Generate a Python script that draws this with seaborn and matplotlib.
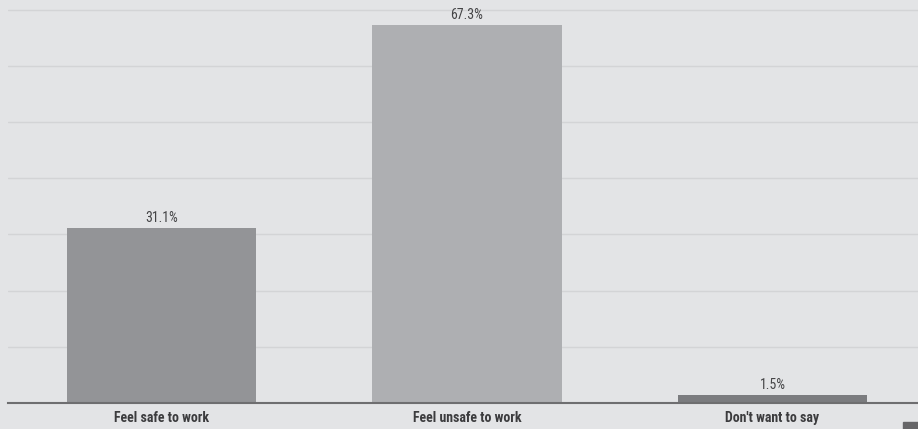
import matplotlib
matplotlib.use("Agg")
import matplotlib.pyplot as plt
import seaborn as sns
import pandas as pd

categories = ["Feel safe to work", "Feel unsafe to work", "Don't want to say"]
values = [31.1, 67.3, 1.5]
labels = ["31.1%", "67.3%", "1.5%"]
bar_colors = ["#939497", "#aeafb2", "#7b7c7f"]

sns.set_style("white")
plt.rcParams['font.family'] = ['Roboto Condensed', 'Liberation Sans Narrow', 'Roboto', 'DejaVu Sans']

bg = "#e3e4e6"
fig = plt.figure(figsize=(9.18, 4.29), dpi=100, facecolor=bg)
# axes placed in pixel terms: left 8px, baseline at 403px from top
ax = fig.add_axes([8 / 918, (429 - 403) / 429, 910 / 918, 403 / 429])
ax.set_facecolor(bg)

data = pd.DataFrame({"category": categories, "value": values})
sns.barplot(data=data, x="category", y="value", hue="category",
            palette=bar_colors, width=0.62, saturation=1, legend=False,
            linewidth=0, ax=ax)

ax.set_ylim(0, 71.7)
ax.set_xlim(-0.502, 2.476)
ax.set_yticks(range(0, 80, 10))
ax.yaxis.grid(True, color="#d3d4d6", linewidth=1)
ax.set_axisbelow(True)
ax.tick_params(axis="y", left=False, labelleft=False)
ax.tick_params(axis="x", bottom=False, pad=2)
for lbl in ax.get_xticklabels():
    lbl.set_fontweight("bold")
    lbl.set_fontsize(10)
    lbl.set_color("#3c3c3e")
ax.set_xlabel("")
ax.set_ylabel("")
for side in ["top", "right", "left"]:
    ax.spines[side].set_visible(False)
ax.spines["bottom"].set_color("#6e6e70")
ax.spines["bottom"].set_linewidth(1.5)

for i, (v, t) in enumerate(zip(values, labels)):
    ax.annotate(t, (i, v), xytext=(0, 2), textcoords="offset points",
                ha="center", va="bottom", fontsize=10, color="#444446")

# small dark marker in the corner
fig.patches.append(plt.Rectangle((903 / 918, 0), 15 / 918, 7 / 429,
                                 transform=fig.transFigure, color="#666668"))

fig.savefig("out.png", dpi=100, facecolor=bg)
